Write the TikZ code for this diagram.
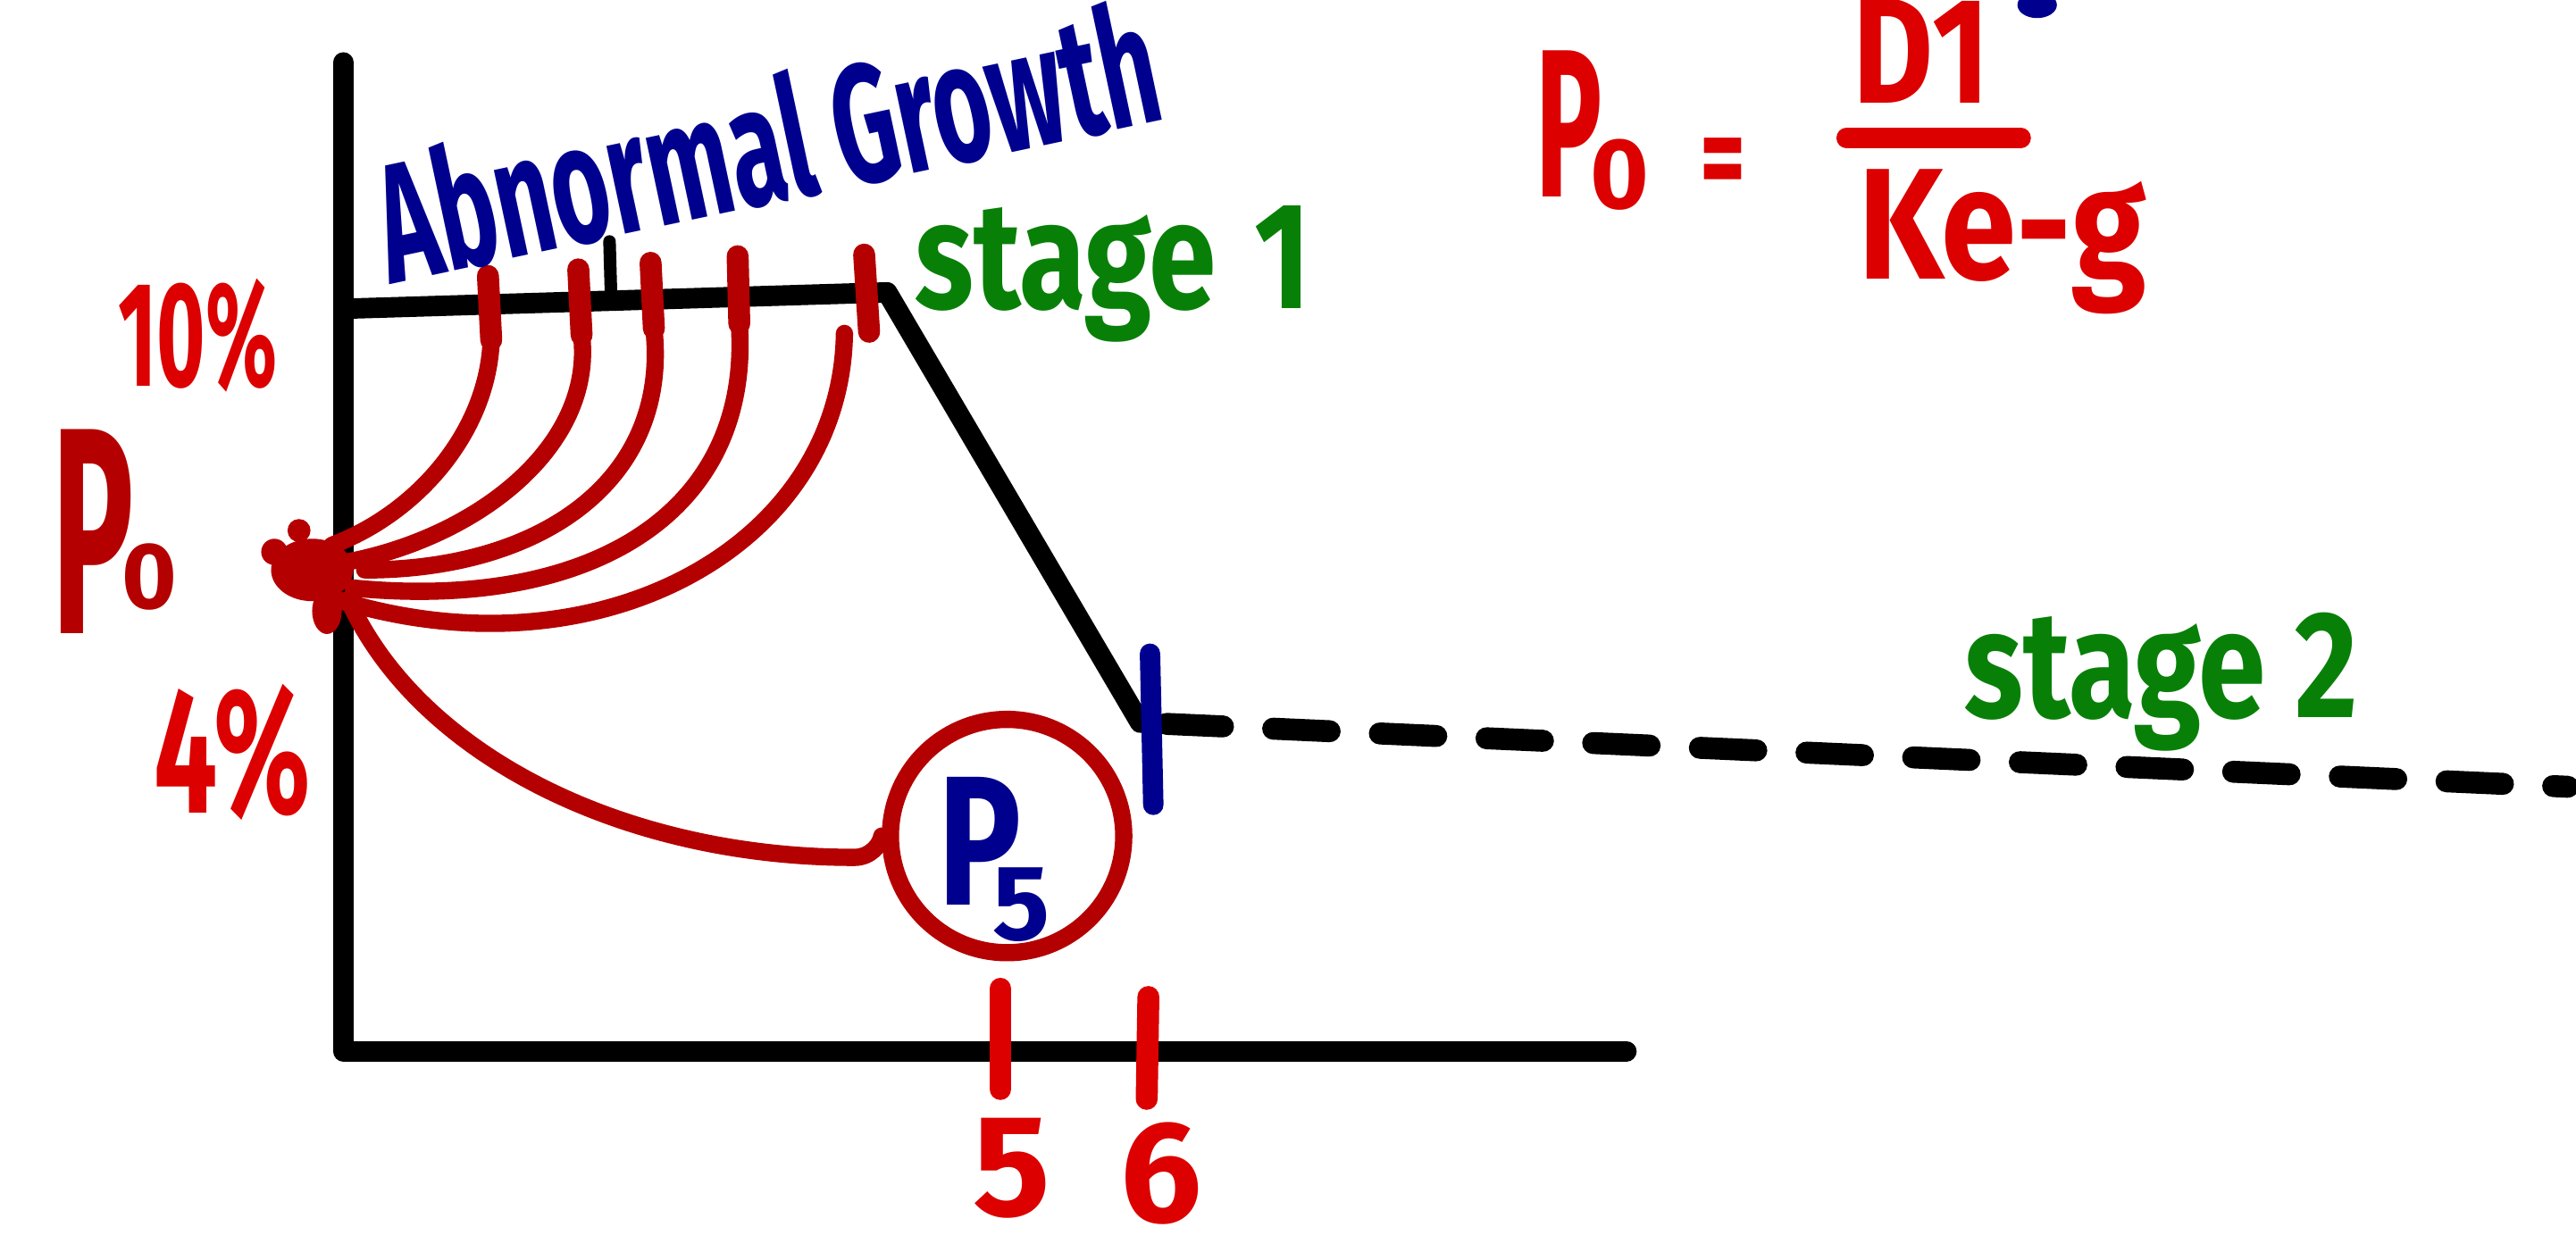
\documentclass[tikz,border=0pt]{standalone}
\usepackage{fontspec}
\setmainfont{Fira Sans}
\definecolor{inkred}{RGB}{220,0,0}
\definecolor{darkred}{RGB}{180,0,0}
\definecolor{inkblue}{RGB}{0,0,142}
\definecolor{inkgreen}{RGB}{8,128,8}
\tikzset{
  axisline/.style={line width=6.5pt, black, line cap=round, line join=round},
  dashline/.style={line width=7pt, black, line cap=round, dash pattern=on 18pt off 16pt, dash phase=25.6pt},
  curve/.style={line width=5.5pt, darkred, line cap=round},
  redtick/.style={line width=7pt, darkred, line cap=round},
  axtick/.style={line width=7pt, inkred, line cap=round},
  bluetick/.style={line width=6.5pt, inkblue, line cap=round},
  lbl/.style={inner sep=0pt, outer sep=0pt, font=\bfseries, anchor=base west},
}
\begin{document}
\begin{tikzpicture}[x=0.018393cm, y=-0.018393cm]
\useasboundingbox (0,0) rectangle (1568,762);
\clip (0,0) rectangle (1568,762);

% axes
\coordinate (Ytop) at (209,38);
\coordinate (O) at (209,640);
\coordinate (Xend) at (990,640);
\draw[axisline] (Ytop) -- (O) -- (Xend);

% stage lines
\coordinate (S1a) at (209,188);
\coordinate (S1b) at (540,178);
\coordinate (S2a) at (694,440);
\coordinate (S2b) at (1563,479);
\draw[axisline] (S1a) -- (S1b) -- (S2a);
\draw[dashline] (S2a) -- (S2b);
\coordinate (mt1) at (371,147);
\coordinate (mt2) at (372,182);
\draw[axisline, line width=4pt] (mt1) -- (mt2);

% blue tick at end of stage 1
\coordinate (bt1) at (700,398);
\coordinate (bt2) at (702,490);
\draw[bluetick] (bt1) -- (bt2);

% red ticks on the top line
\coordinate (t1a) at (297,168); \coordinate (t1b) at (299,207);
\coordinate (t2a) at (352,164); \coordinate (t2b) at (354,204);
\coordinate (t3a) at (396,160); \coordinate (t3b) at (398,200);
\coordinate (t4a) at (449,156); \coordinate (t4b) at (450,197);
\coordinate (t5a) at (526,155); \coordinate (t5b) at (529,202);
\foreach \a/\b in {t1a/t1b,t2a/t2b,t3a/t3b,t4a/t4b,t5a/t5b} \draw[redtick] (\a) -- (\b);

% hub (P0) blob
\coordinate (hub) at (190,347);
\fill[darkred] (hub) ellipse (25 and 19);
\fill[darkred] (167,336) circle (8);
\fill[darkred] (182,323) circle (7);
\fill[darkred] (199,372) ellipse (9 and 14);

% curves from P0 to the ticks
\coordinate (h1) at (202,332);
\coordinate (h2) at (212,342);
\coordinate (h3) at (222,347);
\coordinate (h4) at (215,358);
\coordinate (h5) at (202,364);
\coordinate (c5) at (514,203);
\draw[curve] (t1b) .. controls (297,262) and (255,312) .. (h1);
\draw[curve] (t2b) .. controls (362,272) and (290,327) .. (h2);
\draw[curve] (t3b) .. controls (408,292) and (330,347) .. (h3);
\draw[curve] (t4b) .. controls (458,312) and (360,372) .. (h4);
\draw[curve] (c5) .. controls (512,335) and (360,415) .. (h5);

% circle around P5 and curve to it
\node[circle, draw=darkred, line width=5.5pt, minimum size=74.3pt, inner sep=0pt] (p5c) at (613,509) {};
\coordinate (h6) at (212,365);
\coordinate (bend) at (520,522);
\draw[curve] (h6) .. controls (255,460) and (380,522) .. (bend)
  .. controls (530,522) and (536,514) .. (p5c.west);
\node[lbl, inkblue] (P5) at (571,551) {\fontsize{52}{52}\selectfont\scalebox{0.85}[1.13]{P}\hspace{-9pt}\raisebox{-11pt}{\fontsize{34}{34}\selectfont 5}};

% ticks on the x axis
\coordinate (x5a) at (609,602); \coordinate (x5b) at (609,663);
\coordinate (x6a) at (699,607); \coordinate (x6b) at (698,669);
\draw[axtick] (x5a) -- (x5b);
\draw[axtick] (x6a) -- (x6b);
\node[lbl, inkred, anchor=base] (five) at (616,740) {\fontsize{46}{46}\selectfont 5};
\node[lbl, inkred, anchor=base] (six) at (707,744) {\fontsize{46}{46}\selectfont 6};

% labels
\node[lbl, inkblue, rotate=12] (abn) at (238,173) {\fontsize{48}{50}\selectfont\scalebox{0.66}[1.12]{Abnormal Growth}};
\node[lbl, inkgreen] (st1) at (557,188) {\fontsize{44}{46}\selectfont\scalebox{0.88}[1.1]{stage\hspace{14pt}1}};
\node[lbl, inkgreen] (st2) at (1196,437) {\fontsize{44}{46}\selectfont\scalebox{0.88}[1.1]{stage 2}};
\node[lbl, inkred] (pct10) at (72,235) {\fontsize{34}{40}\selectfont\scalebox{0.78}[1.4]{10\%}};
\node[lbl, darkred] (P0L) at (32,386) {\fontsize{70}{70}\selectfont\scalebox{0.62}[1.34]{P}\hspace{-4pt}\raisebox{8pt}{\fontsize{30}{30}\selectfont 0}};
\node[lbl, inkred] (pct4) at (94,495) {\fontsize{46}{50}\selectfont\scalebox{0.78}[1.24]{4\%}};

% formula
\node[lbl, inkred] (P0R) at (935,120) {\fontsize{56}{56}\selectfont\scalebox{0.63}[1.2]{P}\hspace{-4pt}\raisebox{-3.7pt}{\fontsize{32}{32}\selectfont 0}};
\node[lbl, inkred] (eq) at (1035,122) {\fontsize{40}{40}\selectfont\scalebox{0.7}[1]{=}};
\coordinate (fb1) at (1124,84);
\coordinate (fb2) at (1230,84);
\draw[inkred, line width=6.5pt, line cap=round] (fb1) -- (fb2);
\node[lbl, inkred] (num) at (1128,63) {\fontsize{48}{48}\selectfont\scalebox{0.82}[1]{D1}};
\node[lbl, inkred] (den) at (1131,170) {\fontsize{48}{48}\selectfont\scalebox{0.9}[1.05]{Ke-g}};
\fill[inkblue] (1240,3) ellipse (12 and 8);
\end{tikzpicture}
\end{document}
